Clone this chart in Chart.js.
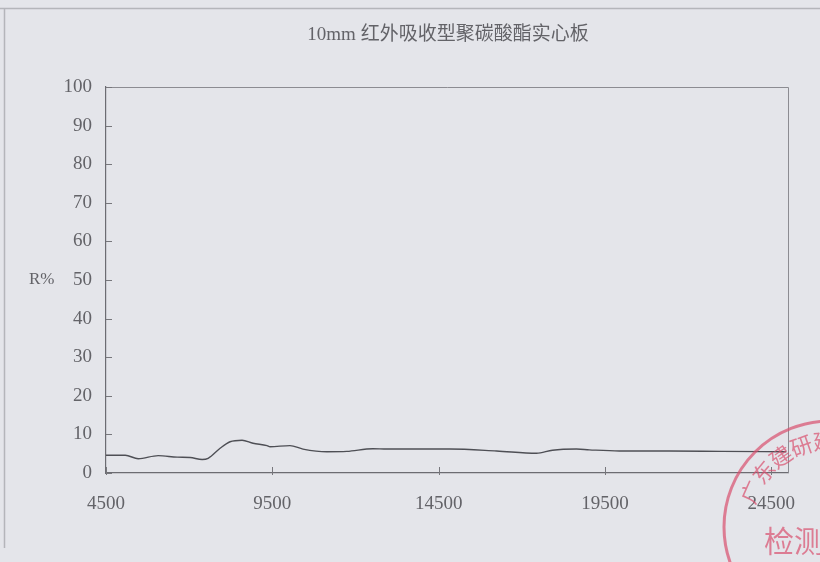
<!DOCTYPE html>
<html>
<head>
<meta charset="utf-8">
<script src="https://cdn.jsdelivr.net/npm/chart.js@4.4.1/dist/chart.umd.min.js"></script>
<style>
  html,body{margin:0;padding:0;background:#e4e5ea;}
  #wrap{width:820px;height:562px;}
</style>
</head>
<body>
<div id="wrap"><canvas id="spec" width="820" height="562"></canvas></div>
<script>
// reflectance spectrum, wavelength (nm) vs R%
const wavelengths = [4500, 5080, 5470, 6070, 6640, 7030, 7390, 7570, 7930, 8230, 8590, 8920, 9340,
  9430, 10030, 10420, 11140, 11740, 12520, 12940, 14140, 14830, 16240, 17440, 17920, 18640,
  19030, 19930, 20530, 21430, 23000, 24950];
const reflectance = [4.6, 4.6, 3.7, 4.5, 4.1, 4.0, 3.5, 3.8, 6.4, 8.1, 8.5, 7.7, 7.1,
  6.8, 7.1, 6.2, 5.5, 5.6, 6.3, 6.2, 6.2, 6.2, 5.7, 5.1, 5.9, 6.2,
  6.0, 5.7, 5.7, 5.7, 5.6, 5.5];
const xTicks = [4500, 9500, 14500, 19500, 24500];
const yTicks = [0, 10, 20, 30, 40, 50, 60, 70, 80, 90, 100];
const chartTitle = '10mm 红外吸收型聚碳酸酯实心板';

const serif = '"Liberation Serif", "DejaVu Serif", "Noto Sans CJK SC", serif';
const ink = '#636368';

// paper background, frame, title, box border and inward ticks
const paper = {
  id:'paper',
  beforeDraw(chart){
    const c = chart.ctx;
    c.save();
    c.fillStyle = '#e4e5ea';
    c.fillRect(0,0,chart.width,chart.height);
    c.strokeStyle = '#b4b5ba'; c.lineWidth = 1.5;
    c.beginPath();
    c.moveTo(0,8.5); c.lineTo(820,8.5);
    c.moveTo(4.5,8); c.lineTo(4.5,548);
    c.stroke();
    c.fillStyle = ink;
    c.font = '19px ' + serif;
    c.textAlign = 'center'; c.textBaseline = 'middle';
    c.fillText(chartTitle, 448, 35);
    c.restore();
  },
  afterDraw(chart){
    const c = chart.ctx, a = chart.chartArea;
    const xs = chart.scales.x, ys = chart.scales.y;
    c.save();
    c.strokeStyle = '#8c8c92'; c.lineWidth = 1;
    c.beginPath();
    c.moveTo(a.left, a.top+0.5); c.lineTo(a.right+0.5, a.top+0.5); c.lineTo(a.right+0.5, a.bottom);
    c.stroke();
    c.strokeStyle = '#77777c';
    c.beginPath();
    yTicks.forEach(v=>{
      const y = Math.round(ys.getPixelForValue(v))+0.5;
      c.moveTo(a.left, y); c.lineTo(a.left+6, y);
    });
    xTicks.forEach(v=>{
      const x = Math.round(xs.getPixelForValue(v))+0.5;
      c.moveTo(x, a.bottom+2); c.lineTo(x, a.bottom-6);
    });
    c.stroke();
    c.restore();
  }
};

// red inspection seal in the corner
const seal = {
  id:'seal',
  afterDraw(chart){
    const c = chart.ctx;
    const cx = 830, cy = 527, r = 106;
    c.save();
    c.globalAlpha = 0.7;
    c.strokeStyle = '#d8506e'; c.lineWidth = 3;
    c.beginPath(); c.arc(cx, cy, r, 0, Math.PI*2); c.stroke();
    c.fillStyle = '#d8506e';
    c.font = '22px "Noto Sans CJK SC", sans-serif';
    c.textAlign = 'center'; c.textBaseline = 'middle';
    const arcText = '广东建研建设';
    for(let i=0;i<arcText.length;i++){
      const ang = Math.PI + 0.42 + i*0.27;
      c.save();
      c.translate(cx + Math.cos(ang)*(r-20), cy + Math.sin(ang)*(r-20));
      c.rotate(ang + Math.PI/2);
      c.fillText(arcText[i], 0, 0);
      c.restore();
    }
    c.font = '30px "Noto Sans CJK SC", sans-serif';
    c.textAlign = 'left';
    c.fillText('检测报', 764, 541);
    c.restore();
  }
};

const points = wavelengths.map((w,i)=>({x:w, y:reflectance[i]}));

new Chart(document.getElementById('spec'), {
  type:'line',
  data:{
    datasets:[{
      label:'R%',
      data:points,
      borderColor:'#4e4f55',
      borderWidth:1.4,
      pointRadius:0,
      fill:false,
      cubicInterpolationMode:'monotone'
    }]
  },
  options:{
    responsive:false,
    animation:false,
    events:[],
    layout:{padding:{top:87, right:32, left:0, bottom:0}},
    plugins:{legend:{display:false}, tooltip:{enabled:false}},
    scales:{
      x:{
        type:'linear', min:4500, max:25000,
        afterBuildTicks(s){ s.ticks = xTicks.map(v=>({value:v})); },
        afterFit(s){ s.height = 89; },
        grid:{display:false, drawTicks:false},
        border:{display:true, color:'#6c6c72', width:1.2},
        ticks:{color:ink, padding:20, maxRotation:0, autoSkip:false,
          font:{family:serif, size:19}, callback:v=>String(v)}
      },
      y:{
        min:0, max:100,
        afterBuildTicks(s){ s.ticks = yTicks.map(v=>({value:v})); },
        afterFit(s){ s.width = 106; },
        grid:{display:false, drawTicks:false},
        border:{display:true, color:'#6c6c72', width:1.2},
        ticks:{color:ink, padding:14, font:{family:serif, size:19}, callback:v=>String(v)},
        title:{display:false}
      }
    }
  },
  plugins:[paper, seal, {
    // "R%" label beside the 50 tick
    id:'rlabel',
    afterDraw(chart){
      const c = chart.ctx, y = chart.scales.y.getPixelForValue(50);
      c.save(); c.fillStyle = ink; c.font = '17px ' + serif;
      c.textAlign = 'left'; c.textBaseline = 'middle';
      c.fillText('R%', 29, y);
      c.restore();
    }
  }]
});
</script>
</body>
</html>
